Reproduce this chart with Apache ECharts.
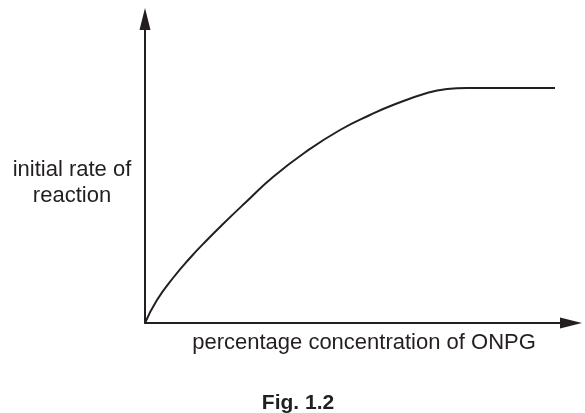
<!DOCTYPE html>
<html>
<head>
<meta charset="utf-8">
<script src="https://cdn.jsdelivr.net/npm/echarts@6/dist/echarts.min.js"></script>
<style>
  html, body { margin: 0; padding: 0; background: #fff; }
  #chart { width: 585px; height: 413px; }
</style>
</head>
<body>
<div id="chart"></div>
<script>
// concentration (arbitrary units) and initial rate (arbitrary units)
var concentration = [0, 12, 28, 45, 62, 78, 100, 128, 162, 195, 225, 248, 282, 302, 322, 410];
var rate = [0, 23, 45, 65, 83, 99, 120, 146, 172, 193, 208, 218, 230, 234, 235, 235];

var xName = "percentage concentration of ONPG";
var yName = "initial rate of\nreaction";
var caption = "Fig. 1.2";

var ink = "#231f20";
var font = "Liberation Sans, Arial, sans-serif";
var chart = echarts.init(document.getElementById("chart"));

var data = [];
concentration.forEach(function (c, i) {
  data.push([c, rate[i]]);
});

var arrowLine = {
  show: true,
  symbol: ["none", "triangle"],
  symbolSize: [11, 22],
  lineStyle: { color: ink, width: 2 }
};

chart.setOption({
  animation: false,
  textStyle: { fontFamily: font },
  grid: { left: 145, right: 14, top: 19, bottom: 90 },
  xAxis: {
    type: "value",
    min: 0,
    max: 426,
    name: xName,
    nameLocation: "middle",
    nameGap: 9,
    nameTextStyle: { color: ink, fontSize: 22, verticalAlign: "top", padding: [0, 0, 0, 12] },
    axisLine: arrowLine,
    axisTick: { show: false },
    axisLabel: { show: false },
    splitLine: { show: false }
  },
  yAxis: {
    type: "value",
    min: 0,
    max: 304,
    axisLine: arrowLine,
    axisTick: { show: false },
    axisLabel: { show: false },
    splitLine: { show: false }
  },
  graphic: [
    {
      type: "text",
      x: 72,
      y: 183,
      style: {
        text: yName,
        fill: ink,
        font: "22px " + font,
        align: "center",
        verticalAlign: "middle",
        lineHeight: 26
      }
    },
    {
      type: "text",
      x: 298,
      y: 403,
      style: {
        text: caption,
        fill: ink,
        font: "bold 21px " + font,
        align: "center",
        verticalAlign: "middle"
      }
    }
  ],
  series: [
    {
      type: "line",
      data: data,
      smooth: 0.5,
      showSymbol: false,
      lineStyle: { color: ink, width: 2 }
    }
  ]
});
</script>
</body>
</html>
